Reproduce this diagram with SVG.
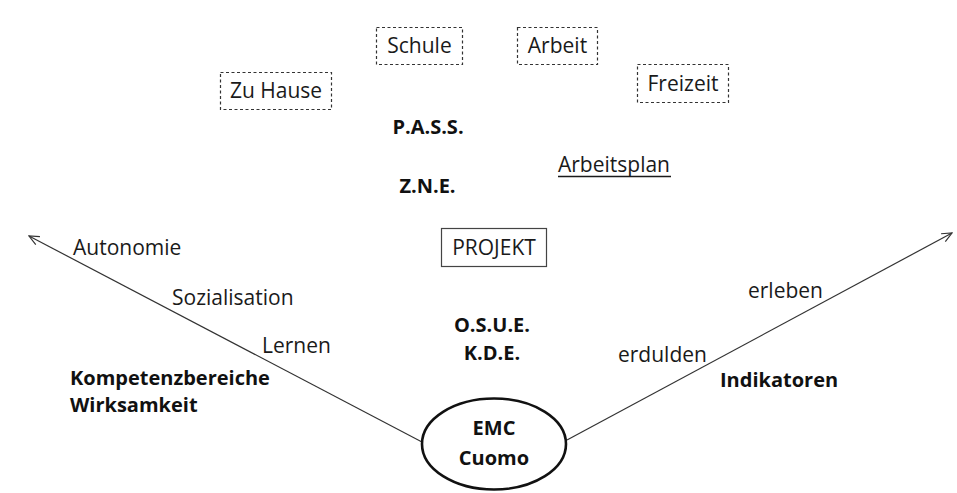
<svg xmlns="http://www.w3.org/2000/svg" width="957" height="493" viewBox="0 0 957 493">
  <style>
    .t { font-family: "Open Sans", "Liberation Sans", sans-serif; font-size: 21px; fill: #1a1a1a; }
    .b { font-weight: bold; font-size: 20px; fill: #111; }
    .dash { fill: none; stroke: #333; stroke-width: 1.2; stroke-dasharray: 3 2.5; }
    .solid { fill: none; stroke: #444; stroke-width: 1.2; }
    .axis { fill: none; stroke: #333; stroke-width: 1.2; }
  </style>
  <defs>
    <marker id="open-arrow" viewBox="0 0 12 12" refX="11" refY="6" markerWidth="12" markerHeight="12" markerUnits="userSpaceOnUse" orient="auto">
      <polyline points="1,1.5 11,6 1,10.5" fill="none" stroke="#333" stroke-width="1.2"/>
    </marker>
  </defs>
  <rect width="957" height="493" fill="#ffffff"/>

  <!-- axes from the centre ellipse -->
  <g id="connectors">
    <line class="axis" x1="422" y1="442" x2="29" y2="236" marker-end="url(#open-arrow)"/>
    <line class="axis" x1="567" y1="440" x2="952" y2="233" marker-end="url(#open-arrow)"/>
  </g>

  <g id="schule">
    <rect class="dash" x="376.5" y="27.5" width="86" height="37"/>
    <text class="t" x="419.5" y="53" text-anchor="middle">Schule</text>
  </g>
  <g id="arbeit">
    <rect class="dash" x="517.5" y="27.5" width="80" height="37"/>
    <text class="t" x="557.5" y="53" text-anchor="middle">Arbeit</text>
  </g>
  <g id="zu-hause">
    <rect class="dash" x="220.5" y="72.5" width="111" height="37"/>
    <text class="t" x="276" y="98" text-anchor="middle">Zu Hause</text>
  </g>
  <g id="freizeit">
    <rect class="dash" x="637.5" y="64.5" width="91" height="38"/>
    <text class="t" x="683" y="91" text-anchor="middle">Freizeit</text>
  </g>

  <g id="pass"><text class="t b" x="428" y="134" text-anchor="middle">P.A.S.S.</text></g>
  <g id="zne"><text class="t b" x="427.5" y="193" text-anchor="middle">Z.N.E.</text></g>
  <g id="arbeitsplan">
    <text class="t" x="614" y="172" text-anchor="middle">Arbeitsplan</text>
    <line x1="558" y1="176.5" x2="671" y2="176.5" stroke="#1a1a1a" stroke-width="1.5"/>
  </g>
  <g id="projekt">
    <rect class="solid" x="441.5" y="228.5" width="105" height="38"/>
    <text class="t" x="494" y="255" text-anchor="middle">PROJEKT</text>
  </g>

  <g id="osue"><text class="t b" x="492" y="332" text-anchor="middle">O.S.U.E.</text></g>
  <g id="kde"><text class="t b" x="492" y="360" text-anchor="middle">K.D.E.</text></g>

  <g id="emc">
    <ellipse cx="494" cy="444" rx="72" ry="45.5" fill="#ffffff" stroke="#111" stroke-width="2.6"/>
    <text class="t b" x="494" y="435" text-anchor="middle">EMC</text>
    <text class="t b" x="494" y="465" text-anchor="middle">Cuomo</text>
  </g>

  <g id="left-labels">
    <text class="t" x="73" y="255">Autonomie</text>
    <text class="t" x="172" y="305">Sozialisation</text>
    <text class="t" x="262" y="353">Lernen</text>
    <text class="t b" x="70" y="385">Kompetenzbereiche</text>
    <text class="t b" x="70" y="412">Wirksamkeit</text>
  </g>
  <g id="right-labels">
    <text class="t" x="748" y="298">erleben</text>
    <text class="t" x="618" y="362">erdulden</text>
    <text class="t b" x="720" y="387">Indikatoren</text>
  </g>
</svg>
